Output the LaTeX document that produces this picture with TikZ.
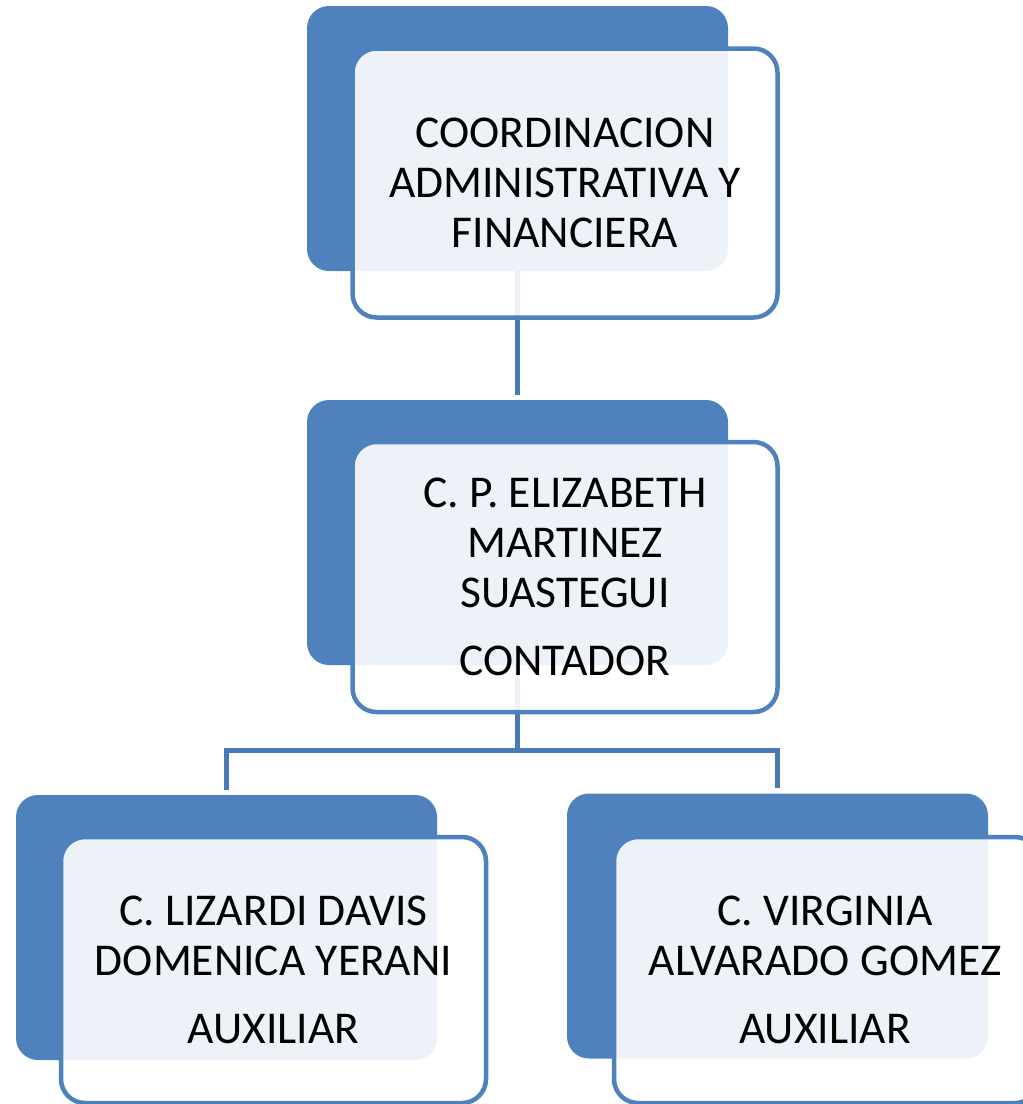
\documentclass[tikz,border=0pt]{standalone}
\usepackage{fontspec}
\setmainfont{Carlito}
\usetikzlibrary{backgrounds}
\definecolor{blueback}{HTML}{4F81BD}
\definecolor{blueline}{HTML}{4A7AB5}
\tikzset{
  backbox/.style={rectangle, rounded corners=22pt, fill=blueback, draw=none,
    minimum width=421pt, minimum height=265pt, inner sep=0pt},
  labelfont/.style={font=\fontsize{45.5pt}{50pt}\selectfont},
  frontbox/.style={rectangle, rounded corners=24pt, draw=blueback, line width=4.5pt,
    fill=white, fill opacity=0.9, text opacity=1, text=black, align=center,
    minimum width=425pt, inner sep=0pt, labelfont},
  conn/.style={draw=blueline, line width=5pt}
}
\begin{document}
\begin{tikzpicture}[x=1pt,y=-1pt]
\useasboundingbox (0,0) rectangle (1023,1104);
% back boxes
\node[backbox] (topback) at (517.5,138.5) {};
\node[backbox] (midback) at (517.5,532.5) {};
\node[backbox] (leftback) at (226.5,927.5) {};
\node[backbox] (rightback) at (777.5,926) {};
% front boxes
\node[frontbox, minimum height=269pt] (topfront) at (565,183)
  {COORDINACION\\ADMINISTRATIVA Y\\FINANCIERA};
\node[frontbox, minimum height=270pt] (midfront) at (565,577)
  {C. P. ELIZABETH\\MARTINEZ\\SUASTEGUI\\[18pt]CONTADOR};
\node[frontbox, minimum height=266pt] (leftfront) at (273.5,970)
  {C. LIZARDI DAVIS\\DOMENICA YERANI\\[18pt]AUXILIAR};
\node[frontbox, minimum height=266pt] (rightfront) at (826.5,970)
  {};
\node[align=center, labelfont] (righttext) at (825,970)
  {C. VIRGINIA\\ALVARADO GOMEZ\\[18pt]AUXILIAR};
\coordinate (bus) at (517.5,750);
\begin{scope}[on background layer]
\draw[conn, shorten >=5pt] (topback.center) -- (midback.north);
\draw[conn] (midback.center) -- (bus);
\draw[conn, shorten <=5pt, shorten >=5pt] (leftback.north) |- (bus) -| (rightback.north);
\end{scope}
\end{tikzpicture}
\end{document}
